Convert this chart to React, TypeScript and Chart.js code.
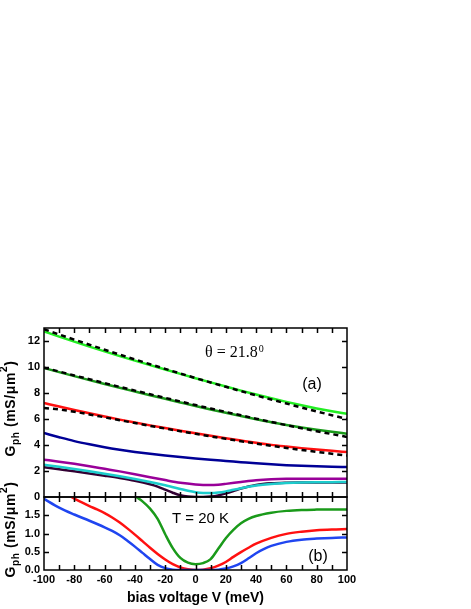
import React, { useEffect, useRef } from 'react';
import { Chart, registerables } from 'chart.js';

Chart.register(...registerables);

// ---------- data: panel (a) ----------
const V_TOP = [-100, -90, -80, -70, -60, -50, -40, -30, -20, -10, 0, 10, 20, 30, 40, 50, 60, 70, 80, 90, 100];
const G_LIGHT = [12.74, 12.34, 11.95, 11.57, 11.2, 10.84, 10.49, 10.145, 9.805, 9.47, 9.14, 8.815, 8.495, 8.185, 7.885, 7.595, 7.315, 7.055, 6.815, 6.595, 6.395];
const G_LIGHT_FIT = [12.9, 12.5, 12.105, 11.715, 11.33, 10.95, 10.58, 10.215, 9.855, 9.5, 9.15, 8.81, 8.475, 8.145, 7.82, 7.5, 7.19, 6.885, 6.585, 6.29, 6.0];
const G_DARK = [9.92, 9.605, 9.295, 8.99, 8.69, 8.4, 8.115, 7.832, 7.552, 7.275, 7.0, 6.735, 6.475, 6.225, 5.985, 5.75, 5.54, 5.35, 5.175, 5.015, 4.87];
const G_DARK_FIT = [9.95, 9.65, 9.352, 9.056, 8.762, 8.47, 8.185, 7.903, 7.623, 7.345, 7.07, 6.805, 6.543, 6.283, 6.025, 5.77, 5.53, 5.295, 5.065, 4.84, 4.62];
const G_RED = [7.23, 6.955, 6.69, 6.435, 6.19, 5.95, 5.725, 5.51, 5.3, 5.095, 4.9, 4.71, 4.525, 4.345, 4.17, 4.01, 3.88, 3.76, 3.65, 3.55, 3.46];
const G_RED_FIT = [6.85, 6.73, 6.56, 6.35, 6.13, 5.91, 5.69, 5.475, 5.265, 5.06, 4.86, 4.665, 4.475, 4.29, 4.11, 3.935, 3.775, 3.62, 3.47, 3.325, 3.185];
const G_NAVY = [4.92, 4.6, 4.3, 4.05, 3.83, 3.64, 3.47, 3.32, 3.19, 3.07, 2.96, 2.86, 2.77, 2.68, 2.59, 2.51, 2.45, 2.4, 2.36, 2.33, 2.31];

const V_PURPLE = [-100, -90, -80, -70, -60, -50, -40, -30, -20, -10, 0, 5, 10, 15, 20, 30, 40, 50, 60, 70, 80, 90, 100];
const G_PURPLE = [2.87, 2.72, 2.55, 2.37, 2.17, 1.97, 1.75, 1.52, 1.3, 1.1, 0.97, 0.93, 0.92, 0.95, 1.01, 1.15, 1.28, 1.36, 1.4, 1.41, 1.41, 1.41, 1.41];
const V_CYAN = [-100, -90, -80, -70, -60, -50, -40, -30, -20, -10, -5, 0, 5, 10, 15, 20, 25, 30, 40, 50, 60, 70, 80, 90, 100];
const G_CYAN = [2.48, 2.33, 2.16, 1.98, 1.79, 1.59, 1.38, 1.15, 0.9, 0.62, 0.48, 0.37, 0.31, 0.3, 0.34, 0.43, 0.56, 0.68, 0.88, 1.0, 1.07, 1.11, 1.13, 1.14, 1.15];
const V_DARKEST = [-100, -90, -80, -70, -60, -50, -40, -30, -25, -20, -15, -10, -5, 0, 5, 10, 15, 20, 25, 30, 35, 40, 50, 60, 70, 80, 90, 100];
const G_DARKEST = [2.28, 2.13, 1.98, 1.81, 1.64, 1.46, 1.25, 0.98, 0.8, 0.57, 0.33, 0.13, 0.03, 0.0, 0.0, 0.03, 0.12, 0.28, 0.46, 0.65, 0.81, 0.93, 1.05, 1.1, 1.12, 1.12, 1.12, 1.12];

// ---------- data: panel (b) ----------
const V_B_BLUE = [-100, -90, -80, -70, -60, -55, -50, -45, -40, -35, -30, -25, -20, -15, -10, 10, 15, 20, 25, 30, 35, 40, 45, 50, 60, 70, 80, 90, 100];
const G_B_BLUE = [1.95, 1.71, 1.52, 1.35, 1.17, 1.07, 0.95, 0.8, 0.64, 0.47, 0.3, 0.14, 0.05, 0.01, 0.0, 0.0, 0.01, 0.04, 0.1, 0.19, 0.32, 0.46, 0.57, 0.66, 0.77, 0.83, 0.86, 0.88, 0.89];
const V_B_RED = [-82, -75, -70, -65, -60, -55, -50, -45, -40, -35, -30, -25, -20, -15, -10, -5, 0, 5, 10, 15, 20, 25, 30, 35, 40, 50, 60, 70, 80, 90, 100];
const G_B_RED = [2.0, 1.85, 1.75, 1.66, 1.56, 1.44, 1.3, 1.14, 0.97, 0.79, 0.61, 0.44, 0.29, 0.16, 0.07, 0.02, 0.0, 0.01, 0.05, 0.12, 0.22, 0.36, 0.49, 0.61, 0.72, 0.88, 0.99, 1.05, 1.09, 1.11, 1.12];
const V_B_GREEN = [-39, -35, -30, -25, -20, -15, -10, -5, 0, 5, 10, 15, 20, 25, 30, 35, 40, 50, 60, 70, 80, 90, 100];
const G_B_GREEN = [2.0, 1.88, 1.68, 1.4, 0.98, 0.6, 0.33, 0.2, 0.16, 0.19, 0.3, 0.58, 0.87, 1.1, 1.28, 1.4, 1.48, 1.57, 1.62, 1.645, 1.655, 1.66, 1.66];

// ---------- ticks / labels ----------
const X_MINOR_TICKS = [-90, -80, -70, -60, -50, -40, -30, -20, -10, 0, 10, 20, 30, 40, 50, 60, 70, 80, 90];
const TOP_Y_TICKS = [2, 4, 6, 8, 10, 12];
const BOT_Y_TICKS = [0.5, 1.0, 1.5];
const X_TITLE = 'bias voltage V (meV)';
const THETA_TEXT = '\u03b8 = 21.8';
const THETA_SUP = '0';
const LABEL_A = '(a)';
const LABEL_B = '(b)';
const TEMP_TEXT = 'T = 20 K';

const SANS = '"Liberation Sans", Arial, Helvetica, sans-serif';
const SERIF = '"Liberation Serif", "Times New Roman", serif';
const TICK_FONT = { family: SANS, size: 11, weight: 'bold' as const };

const pts = (xs: number[], ys: number[]) => xs.map((x, i) => ({ x, y: ys[i] }));

const line = (data: { x: number; y: number }[], color: string, dashed = false) => ({
  data,
  borderColor: color,
  borderWidth: 2.5,
  borderDash: dashed ? [5, 4] : [],
  pointRadius: 0,
  cubicInterpolationMode: 'monotone' as const,
  fill: false,
  order: dashed ? 0 : 1,
});

function drawYTitle(ctx: CanvasRenderingContext2D, cx: number, cy: number) {
  const base = 14;
  const small = base * 0.72;
  const parts = [
    { t: 'G', s: base, dy: 0 },
    { t: 'ph', s: small, dy: base * 0.35 },
    { t: ' (mS/\u03bcm', s: base, dy: 0 },
    { t: '2', s: small, dy: -base * 0.45 },
    { t: ')', s: base, dy: 0 },
  ];
  const spacing = 0.6;
  let total = 0;
  for (const p of parts) {
    ctx.font = `bold ${p.s}px ${SANS}`;
    for (const ch of p.t) total += ctx.measureText(ch).width + spacing;
  }
  ctx.save();
  ctx.translate(cx, cy);
  ctx.rotate(-Math.PI / 2);
  ctx.fillStyle = '#000';
  ctx.textBaseline = 'middle';
  ctx.textAlign = 'left';
  let x = -total / 2;
  for (const p of parts) {
    ctx.font = `bold ${p.s}px ${SANS}`;
    for (const ch of p.t) {
      ctx.fillText(ch, x, p.dy);
      x += ctx.measureText(ch).width + spacing;
    }
  }
  ctx.restore();
}

const framePlugin = (yTicks: number[], extra: (ctx: CanvasRenderingContext2D, a: any) => void) => ({
  id: 'frame',
  afterDraw(chart: any) {
    const { ctx, chartArea: a, scales } = chart;
    ctx.save();
    ctx.strokeStyle = '#000';
    ctx.lineWidth = 1.5;
    ctx.strokeRect(a.left, a.top, a.right - a.left, a.bottom - a.top);
    const L = 5;
    ctx.beginPath();
    for (const v of X_MINOR_TICKS) {
      const x = Math.round(scales.x.getPixelForValue(v)) + 0.5;
      ctx.moveTo(x, a.top);
      ctx.lineTo(x, a.top + L);
      ctx.moveTo(x, a.bottom);
      ctx.lineTo(x, a.bottom - L);
    }
    for (const v of yTicks) {
      const y = Math.round(scales.y.getPixelForValue(v)) + 0.5;
      ctx.moveTo(a.left, y);
      ctx.lineTo(a.left + L, y);
      ctx.moveTo(a.right, y);
      ctx.lineTo(a.right - L, y);
    }
    ctx.stroke();
    drawYTitle(ctx, 11, (a.top + a.bottom) / 2 - 4);
    extra(ctx, a);
    ctx.restore();
  },
});

export default function App() {
  const topRef = useRef<HTMLCanvasElement>(null);
  const botRef = useRef<HTMLCanvasElement>(null);

  useEffect(() => {
    Chart.defaults.color = '#000';

    const top = new Chart(topRef.current as HTMLCanvasElement, {
      type: 'line',
      data: {
        datasets: [
          line(pts(V_TOP, G_LIGHT_FIT), '#000', true),
          line(pts(V_TOP, G_DARK_FIT), '#000', true),
          line(pts(V_TOP, G_RED_FIT), '#000', true),
          line(pts(V_TOP, G_LIGHT), '#22ee22'),
          line(pts(V_TOP, G_DARK), '#1a9a1a'),
          line(pts(V_TOP, G_RED), '#ff1010'),
          line(pts(V_TOP, G_NAVY), '#000096'),
          line(pts(V_PURPLE, G_PURPLE), '#990099'),
          line(pts(V_CYAN, G_CYAN), '#1ccccc'),
          line(pts(V_DARKEST, G_DARKEST), '#330033'),
        ],
      },
      options: {
        animation: false,
        responsive: false,
        layout: { padding: { left: 0, top: 328, right: 124, bottom: 112 } },
        plugins: { legend: { display: false }, tooltip: { enabled: false } },
        scales: {
          x: { type: 'linear', min: -100, max: 100, display: false },
          y: {
            type: 'linear',
            min: 0,
            max: 13,
            grid: { display: false, drawTicks: false },
            border: { display: false },
            ticks: { stepSize: 2, includeBounds: false, padding: 4, font: TICK_FONT, color: '#000' },
            afterFit: (s: any) => { s.width = 44; },
          },
        },
      },
      plugins: [
        framePlugin(TOP_Y_TICKS, (ctx) => {
          ctx.fillStyle = '#000';
          ctx.textBaseline = 'alphabetic';
          ctx.textAlign = 'left';
          ctx.font = `16px ${SERIF}`;
          ctx.fillText(THETA_TEXT, 205, 357);
          const w = ctx.measureText(THETA_TEXT).width;
          ctx.font = `10px ${SERIF}`;
          ctx.fillText(THETA_SUP, 205 + w + 1, 352);
          ctx.font = `16px ${SANS}`;
          ctx.textAlign = 'center';
          ctx.textBaseline = 'middle';
          ctx.fillText(LABEL_A, 312, 385);
        }),
      ],
    } as any);

    const bot = new Chart(botRef.current as HTMLCanvasElement, {
      type: 'line',
      data: {
        datasets: [
          line(pts(V_B_BLUE, G_B_BLUE), '#1f45f0'),
          line(pts(V_B_RED, G_B_RED), '#ff1010'),
          line(pts(V_B_GREEN, G_B_GREEN), '#1a9a1a'),
        ],
      },
      options: {
        animation: false,
        responsive: false,
        layout: { padding: { left: 0, top: 497, right: 124, bottom: 0 } },
        plugins: { legend: { display: false }, tooltip: { enabled: false } },
        scales: {
          x: {
            type: 'linear',
            min: -100,
            max: 100,
            grid: { display: false, drawTicks: false },
            border: { display: false },
            ticks: { stepSize: 20, padding: 3, font: TICK_FONT, color: '#000' },
            title: {
              display: true,
              text: X_TITLE,
              color: '#000',
              font: { family: SANS, size: 14, weight: 'bold' },
              padding: { top: 0, bottom: 2 },
            },
            afterFit: (s: any) => { s.height = 39; },
          },
          y: {
            type: 'linear',
            min: 0,
            max: 2,
            grid: { display: false, drawTicks: false },
            border: { display: false },
            ticks: {
              stepSize: 0.5,
              padding: 4,
              font: TICK_FONT,
              color: '#000',
              callback: (v: any) => (Number(v) >= 2 ? '' : Number(v).toFixed(1)),
            },
            afterFit: (s: any) => { s.width = 44; },
          },
        },
      },
      plugins: [
        framePlugin(BOT_Y_TICKS, (ctx) => {
          ctx.fillStyle = '#000';
          ctx.font = `15px ${SANS}`;
          ctx.textAlign = 'left';
          ctx.textBaseline = 'middle';
          ctx.fillText(TEMP_TEXT, 172, 519);
          ctx.font = `16px ${SANS}`;
          ctx.textAlign = 'center';
          ctx.fillText(LABEL_B, 318, 557);
        }),
      ],
    } as any);

    return () => {
      top.destroy();
      bot.destroy();
    };
  }, []);

  return (
    <div style={{ position: 'fixed', left: 0, top: 0, width: 471, height: 609, background: '#fff' }}>
      <canvas ref={topRef} width={471} height={609} style={{ position: 'absolute', left: 0, top: 0 }} />
      <canvas ref={botRef} width={471} height={609} style={{ position: 'absolute', left: 0, top: 0 }} />
    </div>
  );
}
